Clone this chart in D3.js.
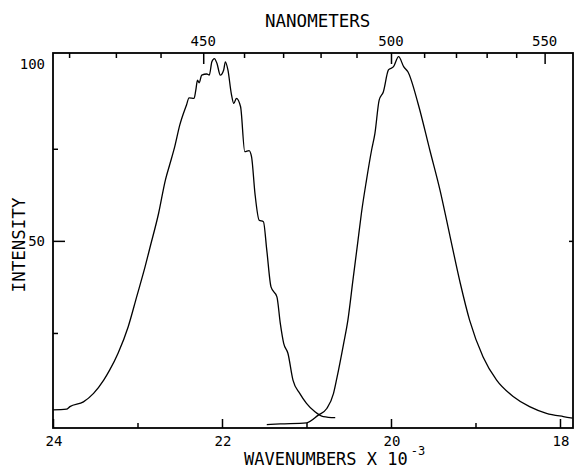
<!DOCTYPE html>
<html>
<head>
<meta charset="utf-8">
<script src="https://cdn.jsdelivr.net/npm/d3@7/dist/d3.min.js"></script>
<style>
  body { margin: 0; background: #fff; }
  text { font-family: "DejaVu Sans Mono", monospace; fill: #000; }
</style>
</head>
<body>
<div id="chart"></div>
<script>
var svgWidth = 576;
var svgHeight = 470;

var margin = { top: 53, right: 3, bottom: 42, left: 53 };
var width = svgWidth - margin.left - margin.right;
var height = svgHeight - margin.top - margin.bottom;

// wavenumbers (x 10^-3 cm^-1) and intensity
var blueWave = [24.00, 23.84, 23.80, 23.64, 23.52, 23.40, 23.33, 23.23, 23.11, 23.01,
  22.91, 22.85, 22.75, 22.67, 22.62, 22.56, 22.50, 22.42, 22.39, 22.33,
  22.31, 22.29, 22.27, 22.24, 22.18, 22.15, 22.12, 22.09, 22.06, 22.02,
  21.98, 21.96, 21.93, 21.89, 21.86, 21.83, 21.78, 21.73, 21.68, 21.65,
  21.61, 21.56, 21.51, 21.47, 21.42, 21.35, 21.31, 21.27, 21.22, 21.16,
  21.08, 21.00, 20.90, 20.80, 20.66];
var blueInt = [4.1, 4.3, 5.0, 6.3, 8.6, 12.2, 14.9, 19.5, 26.7, 34.8,
  43.0, 48.4, 57.5, 66.5, 70.6, 75.5, 81.4, 86.9, 88.8, 88.7,
  90.9, 93.6, 92.9, 95.0, 95.3, 95.0, 98.6, 99.5, 98.2, 95.0,
  96.4, 98.6, 96.4, 90.0, 87.3, 88.7, 86.4, 74.2, 74.5, 72.8,
  62.9, 55.6, 55.2, 47.5, 37.5, 34.8, 27.6, 22.2, 19.5, 12.2,
  8.6, 5.9, 3.6, 2.3, 2.0];

var greenWave = [21.47, 21.31, 21.00, 20.86, 20.76, 20.68, 20.64, 20.56, 20.51, 20.45,
  20.39, 20.35, 20.29, 20.23, 20.19, 20.14, 20.09, 20.03, 19.97, 19.91,
  19.85, 19.80, 19.68, 19.54, 19.42, 19.30, 19.18, 19.07, 18.91, 18.75,
  18.55, 18.36, 18.16, 17.96, 17.85];
var greenInt = [0.1, 0.3, 0.6, 2.7, 4.5, 8.6, 12.8, 22.2, 28.5, 39.4,
  50.2, 57.5, 66.5, 74.6, 79.2, 88.2, 90.5, 96.4, 97.3, 100.0,
  97.3, 95.9, 87.3, 74.6, 63.8, 51.1, 38.5, 28.5, 18.5, 12.2,
  7.7, 5.0, 3.2, 2.3, 1.9];

var waveMajor = [24, 22, 20, 18];
var waveMinor = [23, 21, 19];
var nmMajor = [450, 500, 550];
var nmMinor = [420, 430, 440, 460, 470, 480, 490, 510, 520, 530, 540];
var intMajor = [50, 100];
var intMinor = [25, 75];

var svg = d3.select("#chart")
  .append("svg")
  .attr("width", svgWidth)
  .attr("height", svgHeight);

var chartGroup = svg.append("g")
  .attr("transform", `translate(${margin.left}, ${margin.top})`);

var xScale = d3.scaleLinear().domain([24, 17.846]).range([0, width]);
var yScale = d3.scaleLinear().domain([-0.8, 101]).range([height, 0]);
// nanometers -> wavenumber x 10^-3
var nmToX = nm => xScale(1e4 / nm);

var line = d3.line()
  .x(d => xScale(d[0]))
  .y(d => yScale(d[1]))
  .curve(d3.curveMonotoneX);

[d3.zip(blueWave, blueInt), d3.zip(greenWave, greenInt)].forEach(series => {
  chartGroup.append("path")
    .datum(series)
    .attr("d", line)
    .attr("fill", "none")
    .attr("stroke", "#000")
    .attr("stroke-width", 1.3);
});

// frame
chartGroup.append("rect")
  .attr("width", width)
  .attr("height", height)
  .attr("fill", "none")
  .attr("stroke", "#000")
  .attr("stroke-width", 1.8);

function ticks(axis, values, size, transform) {
  var g = chartGroup.append("g")
    .attr("transform", transform)
    .call(axis.tickValues(values).tickSize(size).tickFormat(""));
  g.select(".domain").remove();
  g.selectAll("line").attr("stroke", "#000").attr("stroke-width", 1.5);
  return g;
}

// bottom axis (wavenumbers), ticks pointing in
ticks(d3.axisBottom(xScale), waveMajor, -9, `translate(0, ${height})`);
ticks(d3.axisBottom(xScale), waveMinor, -5, `translate(0, ${height})`);

// top axis (nanometers)
var nmScale = d3.scaleLinear().domain([0, width]).range([0, width]);
ticks(d3.axisTop(nmScale), nmMajor.map(nmToX), -11, "translate(0, 0)");
ticks(d3.axisTop(nmScale), nmMinor.map(nmToX), -5, "translate(0, 0)");

// left / right axis (intensity)
ticks(d3.axisLeft(yScale), [50], -12, "translate(0, 0)");
ticks(d3.axisLeft(yScale), intMinor, -5, "translate(0, 0)");
ticks(d3.axisRight(yScale), [50], -4, `translate(${width}, 0)`);

// tick labels
chartGroup.selectAll(".xlab")
  .data(waveMajor)
  .enter()
  .append("text")
  .attr("x", d => xScale(d) + 1)
  .attr("y", height + 18)
  .attr("text-anchor", "middle")
  .style("font-size", "14px")
  .text(d => d);

chartGroup.selectAll(".nmlab")
  .data(nmMajor)
  .enter()
  .append("text")
  .attr("x", d => nmToX(d))
  .attr("y", -7)
  .attr("text-anchor", "middle")
  .style("font-size", "14px")
  .text(d => d);

chartGroup.selectAll(".ylab")
  .data(intMajor)
  .enter()
  .append("text")
  .attr("x", -8)
  .attr("y", d => yScale(d) + (d === 100 ? 12 : 5))
  .attr("text-anchor", "end")
  .style("font-size", "14px")
  .text(d => d);

// axis titles
svg.append("text")
  .attr("x", 265)
  .attr("y", 27)
  .style("font-size", "17.5px")
  .text("NANOMETERS");

var xTitle = svg.append("text")
  .attr("x", 244)
  .attr("y", 465)
  .style("font-size", "17px");
xTitle.append("tspan").text("WAVENUMBERS X 10");
xTitle.append("tspan")
  .attr("dx", 3)
  .attr("dy", -10)
  .style("font-size", "12px")
  .text("-3");

svg.append("text")
  .attr("transform", "translate(25, 245) rotate(-90)")
  .attr("text-anchor", "middle")
  .style("font-size", "17.5px")
  .text("INTENSITY");
</script>
</body>
</html>
